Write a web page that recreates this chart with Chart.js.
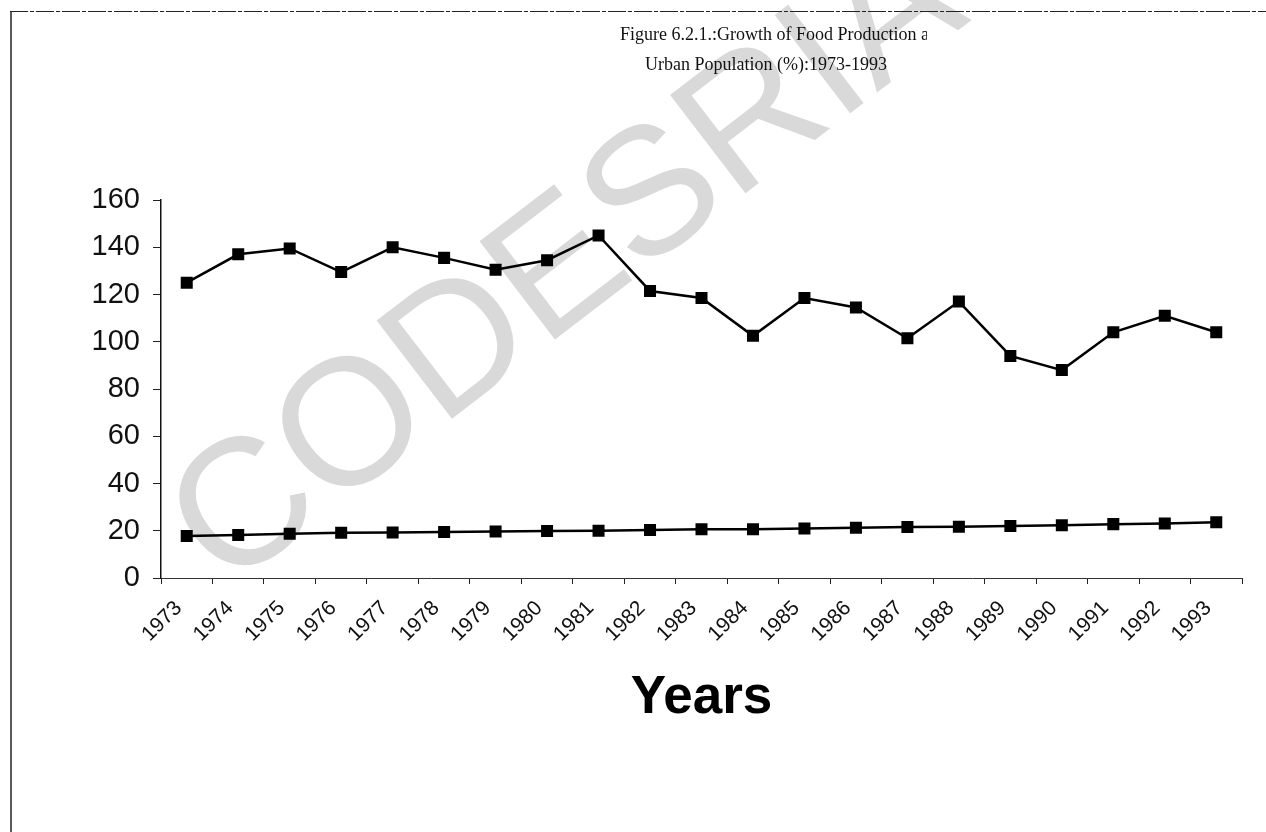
<!DOCTYPE html>
<html>
<head>
<meta charset="utf-8">
<title>Growth of Food Production and Urban Population 1973-1993</title>
<script src="https://cdn.jsdelivr.net/npm/chart.js@4/dist/chart.umd.min.js"></script>
<style>
  html, body { margin: 0; padding: 0; background: #fff; }
  #wrap { width: 1266px; height: 832px; position: relative; }
</style>
</head>
<body>
<div id="wrap"><canvas id="chart" width="1266" height="832"></canvas></div>
<script>
// Years on the horizontal axis
const years = ['1973','1974','1975','1976','1977','1978','1979','1980','1981','1982','1983',
               '1984','1985','1986','1987','1988','1989','1990','1991','1992','1993'];

// Growth of food production (index, %)
const foodProduction = [125, 137, 139.5, 129.5, 140, 135.5, 130.5, 134.5, 145, 121.5, 118.5,
                        102.5, 118.5, 114.5, 101.5, 117, 94, 88, 104, 111, 104];

// Urban population (% of total)
const urbanPopulation = [17.8, 18.2, 18.7, 19.2, 19.3, 19.5, 19.7, 19.9, 20.0, 20.3, 20.6,
                         20.6, 21.0, 21.3, 21.6, 21.7, 22.0, 22.3, 22.8, 23.1, 23.6];

// Value axis ticks
const yMin = 0, yMax = 160, yStep = 20;

const titleLine1 = 'Figure 6.2.1.:Growth of Food Production and';
const titleLine2 = 'Urban Population (%):1973-1993';
const axisTitle = 'Years';
const stamp = 'CODESRIA-LIBRARY';

// Page frame, faint library stamp and the two-line heading
const decorations = {
  id: 'decorations',
  beforeDraw(chart) {
    const ctx = chart.ctx;
    ctx.save();
    ctx.fillStyle = '#ffffff';
    ctx.fillRect(0, 0, chart.width, chart.height);

    // library stamp across the page
    ctx.save();
    ctx.translate(226, 592);
    ctx.rotate(-37.5 * Math.PI / 180);
    ctx.font = '180px "Liberation Sans", Arial, sans-serif';
    ctx.fillStyle = '#d9d9d9';
    ctx.textBaseline = 'alphabetic';
    ctx.textAlign = 'left';
    ctx.fillText(stamp, 0, 0);
    ctx.restore();

    // frame: dashed top edge, solid left edge
    ctx.strokeStyle = '#222';
    ctx.lineWidth = 1;
    ctx.setLineDash([18, 2, 4, 2]);
    ctx.beginPath();
    ctx.moveTo(10, 11.5);
    ctx.lineTo(chart.width, 11.5);
    ctx.stroke();
    ctx.setLineDash([]);
    ctx.lineWidth = 1.5;
    ctx.beginPath();
    ctx.moveTo(11, 11);
    ctx.lineTo(11, chart.height);
    ctx.stroke();

    // heading, first line cut off at the edge of its text box
    ctx.fillStyle = '#111';
    ctx.font = '18px "Liberation Serif", "Times New Roman", serif';
    ctx.textBaseline = 'middle';
    ctx.save();
    ctx.beginPath();
    ctx.rect(0, 0, 927, 60);
    ctx.clip();
    ctx.textAlign = 'left';
    ctx.fillText(titleLine1, 620, 35);
    ctx.restore();
    ctx.textAlign = 'center';
    ctx.fillText(titleLine2, 766, 65);
    ctx.restore();
  }
};

new Chart(document.getElementById('chart'), {
  type: 'line',
  data: {
    labels: years,
    datasets: [
      {
        label: 'Food production',
        data: foodProduction,
        borderColor: '#000',
        backgroundColor: '#000',
        borderWidth: 2.5,
        pointStyle: 'rect',
        pointRadius: 8.5,
        pointBorderWidth: 0,
        tension: 0
      },
      {
        label: 'Urban population',
        data: urbanPopulation,
        borderColor: '#000',
        backgroundColor: '#000',
        borderWidth: 2.5,
        pointStyle: 'rect',
        pointRadius: 8.5,
        pointBorderWidth: 0,
        tension: 0
      }
    ]
  },
  options: {
    responsive: false,
    animation: false,
    layout: { padding: { left: 0, top: 200, right: 24, bottom: 0 } },
    plugins: {
      legend: { display: false },
      title: { display: false },
      tooltip: { enabled: false }
    },
    scales: {
      x: {
        type: 'category',
        offset: true,
        grid: {
          offset: true,
          drawOnChartArea: false,
          drawTicks: true,
          tickLength: 6,
          color: '#222',
          lineWidth: 1
        },
        border: { display: true, color: '#333', width: 1, dash: [7, 3] },
        ticks: {
          color: '#111',
          font: { family: '"Liberation Sans", Arial, sans-serif', size: 21 },
          minRotation: 45,
          maxRotation: 45,
          padding: 12,
          labelOffset: -8,
          autoSkip: false
        },
        title: {
          display: true,
          text: axisTitle,
          color: '#000',
          font: { family: '"Liberation Sans", Arial, sans-serif', size: 53, weight: 'bold', lineHeight: 1.2 },
          padding: { top: 0, bottom: 102 }
        },
        afterFit(scale) { scale.height = 832 - 578; }
      },
      y: {
        min: yMin,
        max: yMax,
        ticks: {
          stepSize: yStep,
          color: '#111',
          font: { family: '"Liberation Sans", Arial, sans-serif', size: 29 },
          padding: 13
        },
        grid: {
          drawOnChartArea: false,
          drawTicks: true,
          tickLength: 8,
          color: '#222',
          lineWidth: 1
        },
        border: { display: true, color: '#111', width: 1.5 },
        afterFit(scale) { scale.width = 161; }
      }
    }
  },
  plugins: [decorations]
});
</script>
</body>
</html>
